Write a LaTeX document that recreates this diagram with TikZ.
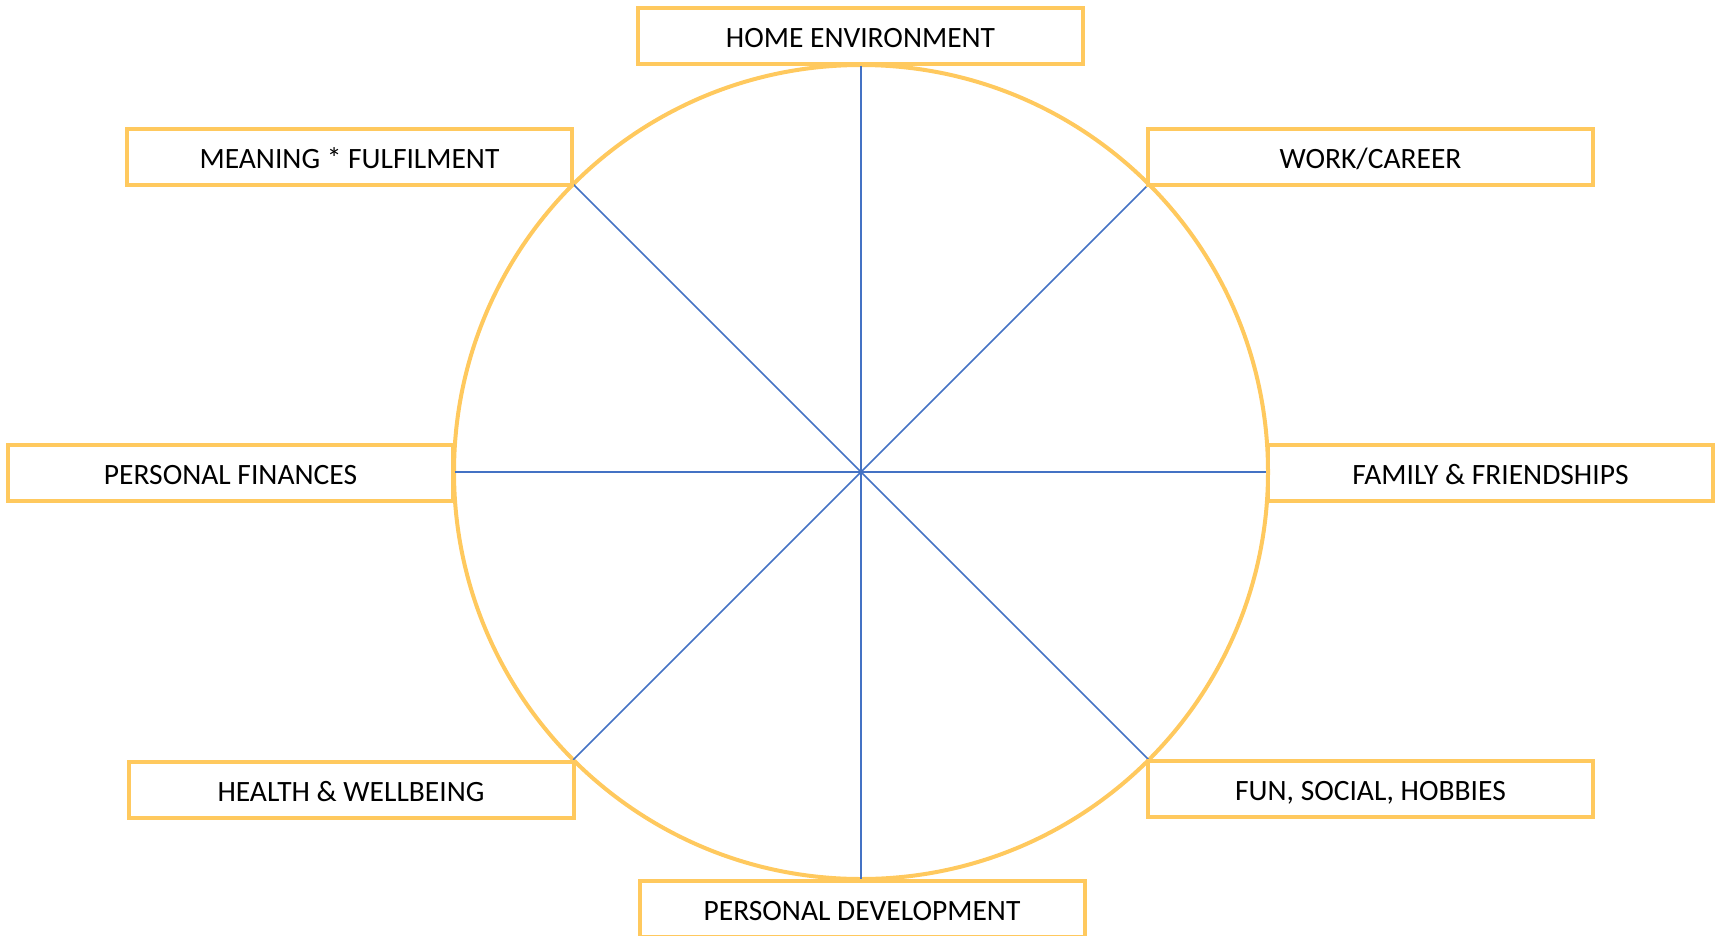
\documentclass[tikz,border=0pt]{standalone}
\usepackage{fontspec}
\setmainfont{Carlito}
\definecolor{wheelgold}{RGB}{255,201,94}
\definecolor{spokeblue}{RGB}{68,114,196}
\begin{document}
\begin{tikzpicture}[x=1pt,y=-1pt,
	area/.style={draw=wheelgold,line width=4pt,minimum width=445pt,minimum height=56pt,inner sep=0pt,text height=26.5pt,text depth=3pt,font=\fontsize{29.5}{33}\selectfont},
	spoke/.style={spokeblue,line width=1.5pt}]
	\useasboundingbox (0,0) rectangle (1715,935);
	\clip (0,0) rectangle (1715,935);
	
	\node[circle,draw=wheelgold,line width=4pt,minimum size=814pt,outer sep=0pt,inner sep=0pt] (wheel) at (861,472) {};
	\foreach \a in {0,45,90,135,180,225,270,315}
	\draw[spoke] (wheel.center) -- (wheel.\a);
	
	\node[area] (home) at (860.5,36) {HOME ENVIRONMENT};
	\node[area] (meaning) at (349.5,156.5) {MEANING * FULFILMENT};
	\node[area] (work) at (1370.5,157) {WORK/CAREER};
	\node[area] (finances) at (230.5,473) {PERSONAL FINANCES};
	\node[area] (family) at (1490.5,473) {FAMILY \& FRIENDSHIPS};
	\node[area] (health) at (351,789.5) {HEALTH \& WELLBEING};
	\node[area] (fun) at (1370.5,789) {FUN, SOCIAL, HOBBIES};
	\node[area] (develop) at (862,909) {PERSONAL DEVELOPMENT};
\end{tikzpicture}
\end{document}
